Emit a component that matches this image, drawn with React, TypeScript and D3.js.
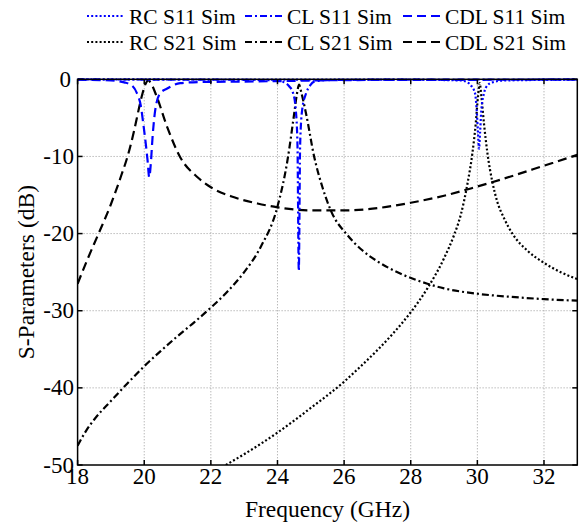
import { useEffect } from "react";
import * as d3 from "d3";

// frequency (GHz), dB pairs
const rcS11: [number, number][] = [
  [18, -0.02], [24, -0.03], [28, -0.05], [29.5, -0.15], [29.7, -0.4], [29.81, -0.8],
  [29.93, -1.8], [29.98, -4], [30.02, -7], [30.05, -9], [30.08, -7], [30.12, -4],
  [30.2, -1.8], [30.3, -0.8], [30.45, -0.4], [30.8, -0.15], [33, -0.05],
];
const clS11: [number, number][] = [
  [18, -0.02], [22, -0.05], [23.5, -0.1], [24.0, -0.15], [24.2, -0.4], [24.35, -0.9],
  [24.47, -1.8], [24.55, -4], [24.6, -8.5], [24.64, -24.8], [24.68, -8.5], [24.74, -4],
  [24.86, -1.8], [24.98, -0.8], [25.1, -0.3], [25.5, -0.1], [27, -0.05], [33, -0.02],
];
const cdlS11: [number, number][] = [
  [18, -0.05], [19, -0.15], [19.4, -0.4], [19.63, -0.8], [19.78, -1.8], [19.9, -3.5],
  [19.97, -5.7], [20.05, -8.5], [20.1, -10.5], [20.15, -12.7], [20.2, -10.8], [20.25, -7.5],
  [20.33, -4], [20.48, -1.8], [20.69, -1.2], [21.08, -0.5], [21.7, -0.35], [23, -0.3],
  [24.5, -0.2], [26, -0.1], [33, -0.05],
];
const rcS21: [number, number][] = [
  [22.45, -50], [23, -48.6], [24, -45.8], [25, -42.6], [26, -39.2], [26.5, -37.2],
  [27, -35.1], [27.5, -32.8], [28, -30.2], [28.5, -27.1], [29, -23.2], [29.3, -20.2],
  [29.5, -17.6], [29.7, -13.6], [29.85, -9.6], [29.95, -5.8], [30.02, -2.2], [30.07, -0.5],
  [30.12, -2.2], [30.2, -5.8], [30.3, -9.5], [30.45, -13.3], [30.6, -15.9], [30.8, -18],
  [31.05, -20], [31.5, -22.2], [32, -23.8], [32.5, -25], [33, -25.9],
];
const clS21: [number, number][] = [
  [18, -47.5], [18.25, -45.6], [18.5, -44.1], [19, -41.7], [19.5, -39.4], [20, -37.2],
  [20.5, -35.2], [21, -33.3], [21.5, -31.5], [22, -29.6], [22.5, -27.5], [23, -25],
  [23.5, -21.7], [24, -16.5], [24.3, -10.5], [24.5, -4.5], [24.58, -2], [24.65, -0.7],
  [24.72, -1.8], [24.86, -4.5], [25.1, -10], [25.35, -14], [25.6, -17], [26.1, -20.2],
  [26.5, -22], [27, -23.6], [27.7, -25.2], [28.5, -26.5], [29, -27.1], [30, -27.8],
  [31, -28.2], [32, -28.5], [33, -28.7],
];
const cdlS21: [number, number][] = [
  [18, -26.5], [18.3, -23.3], [18.63, -20], [19, -16.2], [19.3, -12.6], [19.5, -10],
  [19.7, -6.6], [19.85, -3.6], [19.95, -1.8], [20.05, -0.5], [20.12, -0.15], [20.2, -0.5],
  [20.38, -2.3], [20.69, -6.2], [21.08, -10.1], [21.6, -12.7], [22, -14], [22.7, -15.3],
  [23.4, -16.1], [24, -16.6], [25, -17], [26, -17], [27, -16.7], [28, -16], [29, -15.1],
  [30, -13.9], [31, -12.6], [32, -11.2], [33, -9.8],
];

const xTicks = [18, 20, 22, 24, 26, 28, 30, 32];
const yTicks = [0, -10, -20, -30, -40, -50];

const series = [
  { name: "RC S21 Sim", data: rcS21, color: "#000", dash: "2,2.2" },
  { name: "CL S21 Sim", data: clS21, color: "#000", dash: "7,3,2,3" },
  { name: "CDL S21 Sim", data: cdlS21, color: "#000", dash: "9,5" },
  { name: "RC S11 Sim", data: rcS11, color: "#0000ff", dash: "2,2.2" },
  { name: "CL S11 Sim", data: clS11, color: "#0000ff", dash: "7,3,2,3" },
  { name: "CDL S11 Sim", data: cdlS11, color: "#0000ff", dash: "9,5" },
];

const legendOrder = ["RC S11 Sim", "CL S11 Sim", "CDL S11 Sim", "RC S21 Sim", "CL S21 Sim", "CDL S21 Sim"];

const txt = { fontFamily: "Liberation Serif, Times New Roman, serif", fill: "#000" };

export default function App() {
  useEffect(() => {
    document.body.style.margin = "0";
  }, []);

  const W = 585, H = 526;
  const left = 77.6, right = 577.3, top = 79.3, bottom = 465;

  const x = d3.scaleLinear().domain([18, 33]).range([left, right]);
  const y = d3.scaleLinear().domain([-50, 0]).range([bottom, top]);

  const line = d3.line<[number, number]>()
    .x(d => x(d[0]))
    .y(d => y(d[1]))
    .curve(d3.curveMonotoneX);

  const legendCols = [87, 245, 403];
  const legendRows = [16, 42];

  return (
    <svg width={W} height={H} style={{ display: "block", background: "#fff" }}>
      <defs>
        <clipPath id="plot">
          <rect x={left} y={top - 2} width={right - left} height={bottom - top + 2} />
        </clipPath>
      </defs>

      {/* grid */}
      {xTicks.slice(1).map(t => (
        <line key={"gx" + t} x1={x(t)} x2={x(t)} y1={top} y2={bottom}
          stroke="#9a9a9a" strokeWidth={1} strokeDasharray="1,2" />
      ))}
      {yTicks.slice(1, -1).map(t => (
        <line key={"gy" + t} x1={left} x2={right} y1={y(t)} y2={y(t)}
          stroke="#9a9a9a" strokeWidth={1} strokeDasharray="1,2" />
      ))}

      {/* curves */}
      <g clipPath="url(#plot)">
        {series.map(s => (
          <path key={s.name} d={line(s.data) ?? ""} fill="none" stroke={s.color}
            strokeWidth={2.2} strokeDasharray={s.dash} />
        ))}
      </g>

      {/* box and ticks */}
      <rect x={left} y={top} width={right - left} height={bottom - top} fill="none" stroke="#000" strokeWidth={1.5} />
      {xTicks.map(t => (
        <g key={"tx" + t}>
          <line x1={x(t)} x2={x(t)} y1={bottom} y2={bottom - 5} stroke="#000" strokeWidth={1.5} />
          <line x1={x(t)} x2={x(t)} y1={top} y2={top + 5} stroke="#000" strokeWidth={1.5} />
          <text x={x(t)} y={484} textAnchor="middle" fontSize={23} style={txt}>{t}</text>
        </g>
      ))}
      {yTicks.map(t => (
        <g key={"ty" + t}>
          <line x1={left} x2={left + 5} y1={y(t)} y2={y(t)} stroke="#000" strokeWidth={1.5} />
          <line x1={right} x2={right - 5} y1={y(t)} y2={y(t)} stroke="#000" strokeWidth={1.5} />
          <text x={t === 0 ? 71 : 74} y={y(t)} dy="0.33em" textAnchor="end" fontSize={23} style={txt}>{t}</text>
        </g>
      ))}

      {/* axis labels */}
      <text x={(left + right) / 2} y={517} textAnchor="middle" fontSize={23.5} style={txt}>Frequency (GHz)</text>
      <text transform={`translate(34,${(top + bottom) / 2}) rotate(-90)`} textAnchor="middle" fontSize={23.5} style={txt}>
        S-Parameters (dB)
      </text>

      {/* legend */}
      {legendOrder.map((n, i) => {
        const s = series.find(d => d.name === n)!;
        const cx = legendCols[i % 3];
        const cy = legendRows[Math.floor(i / 3)];
        return (
          <g key={"lg" + n}>
            <line x1={cx} x2={cx + 37} y1={cy} y2={cy} stroke={s.color} strokeWidth={2.2} strokeDasharray={s.dash} />
            <text x={cx + 42} y={cy + 8} fontSize={21.5} style={txt}>{n}</text>
          </g>
        );
      })}
    </svg>
  );
}
